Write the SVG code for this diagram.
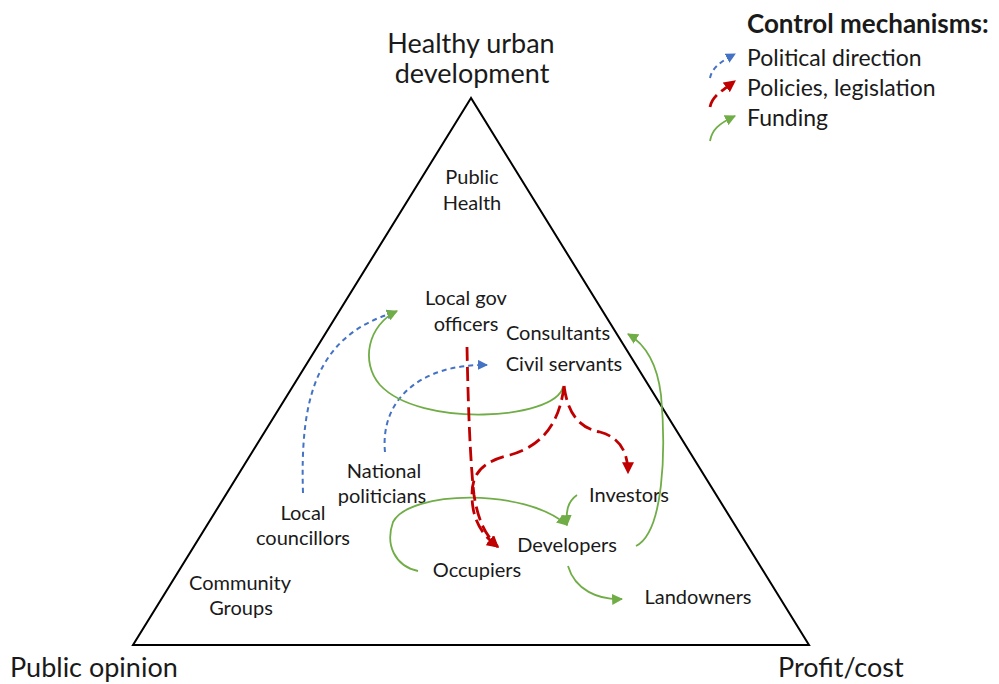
<svg xmlns="http://www.w3.org/2000/svg" width="999" height="684" viewBox="0 0 999 684">
<style>
text{font-family:Lato,"Open Sans","Liberation Sans",sans-serif;fill:#1a1a1a}
.n{font-size:20px;text-anchor:middle}
.big{font-size:27px}
.leg{font-size:23px}
.blue{fill:none;stroke:#4472C4;stroke-width:2;stroke-dasharray:5 4}
.red{fill:none;stroke:#C00000;stroke-width:2.8;stroke-dasharray:14 6}
.green{fill:none;stroke:#70AD47;stroke-width:1.8}
</style>
<defs>
<marker id="ab" viewBox="0 0 10 10" refX="9" refY="5" markerWidth="10" markerHeight="10" markerUnits="userSpaceOnUse" orient="auto"><path d="M0,0L10,5L0,10z" fill="#4472C4"/></marker>
<marker id="ar" viewBox="0 0 10 10" refX="9" refY="5" markerWidth="12" markerHeight="12" markerUnits="userSpaceOnUse" orient="auto"><path d="M0,0L10,5L0,10z" fill="#C00000"/></marker>
<marker id="ag" viewBox="0 0 10 10" refX="9" refY="5" markerWidth="11" markerHeight="11" markerUnits="userSpaceOnUse" orient="auto"><path d="M0,0L10,5L0,10z" fill="#70AD47"/></marker>
</defs>
<rect width="999" height="684" fill="#fff"/>
<polygon points="471,98 133,645 809,645" fill="none" stroke="#000" stroke-width="2"/>
<g id="axis-top"><text class="big" x="471" y="53" text-anchor="middle">Healthy urban</text><text class="big" x="472" y="83" text-anchor="middle">development</text></g>
<g id="axis-left"><text class="big" x="10" y="677">Public opinion</text></g>
<g id="axis-right"><text class="big" x="778" y="677">Profit/cost</text></g>
<g id="legend">
<text x="747" y="33" font-size="26" font-weight="bold">Control mechanisms:</text>
<text class="leg" x="747" y="66">Political direction</text>
<text class="leg" x="747" y="96">Policies, legislation</text>
<text class="leg" x="747" y="126">Funding</text>
<path class="blue" d="M710,78 C712,68 720,62 735,54" marker-end="url(#ab)"/>
<path class="red" stroke-dasharray="9 5" d="M710,107 C712,97 720,92 735,81" marker-end="url(#ar)"/>
<path class="green" d="M710,141 C712,130 718,124 735,116" marker-end="url(#ag)"/>
</g>
<g id="public-health"><text class="n" x="472" y="184">Public</text><text class="n" x="472" y="210">Health</text></g>
<g id="local-gov-officers"><text class="n" x="466" y="305">Local gov</text><text class="n" x="466" y="331">officers</text></g>
<g id="consultants"><text class="n" x="558" y="340">Consultants</text></g>
<g id="civil-servants"><text class="n" x="564" y="371">Civil servants</text></g>
<g id="national-politicians"><text class="n" x="384" y="478">National</text><text class="n" x="382" y="503">politicians</text></g>
<g id="local-councillors"><text class="n" x="303" y="520">Local</text><text class="n" x="303" y="545">councillors</text></g>
<g id="community-groups"><text class="n" x="240" y="590">Community</text><text class="n" x="241" y="615">Groups</text></g>
<g id="investors"><text class="n" x="629" y="502">Investors</text></g>
<g id="developers"><text class="n" x="567" y="552">Developers</text></g>
<g id="occupiers"><text class="n" x="477" y="577">Occupiers</text></g>
<g id="landowners"><text class="n" x="698" y="604">Landowners</text></g>
<g id="connectors">
<path class="blue" d="M303,493 C300,400 315,335 396,312" marker-end="url(#ab)"/>
<path class="blue" d="M385,452 C380,400 420,364 487,365" marker-end="url(#ab)"/>
<path class="green" d="M563,387 C555,420 420,428 380,385 C360,362 368,325 397,311" marker-end="url(#ag)"/>
<path class="green" d="M577,495 C567,502 566,512 567,525" marker-end="url(#ag)"/>
<path class="green" d="M418,571 C395,566 385,545 393,522 C410,490 525,488 567,525" marker-end="url(#ag)"/>
<path class="green" d="M568,566 C575,590 598,600 622,599" marker-end="url(#ag)"/>
<path class="green" d="M636,546 C664,532 666,450 661,395 C657,362 645,344 628,334" marker-end="url(#ag)"/>
<path class="red" d="M467,347 C468,400 470,460 474,495 C478,520 485,535 498,547" marker-end="url(#ar)"/>
<path class="red" d="M564,386 C560,420 545,445 510,455 C480,462 472,475 472,495 C472,520 482,535 498,547" marker-end="url(#ar)"/>
<path class="red" d="M564,386 C568,415 580,428 600,432 C622,438 628,455 628,473" marker-end="url(#ar)"/>
</g>
</svg>
